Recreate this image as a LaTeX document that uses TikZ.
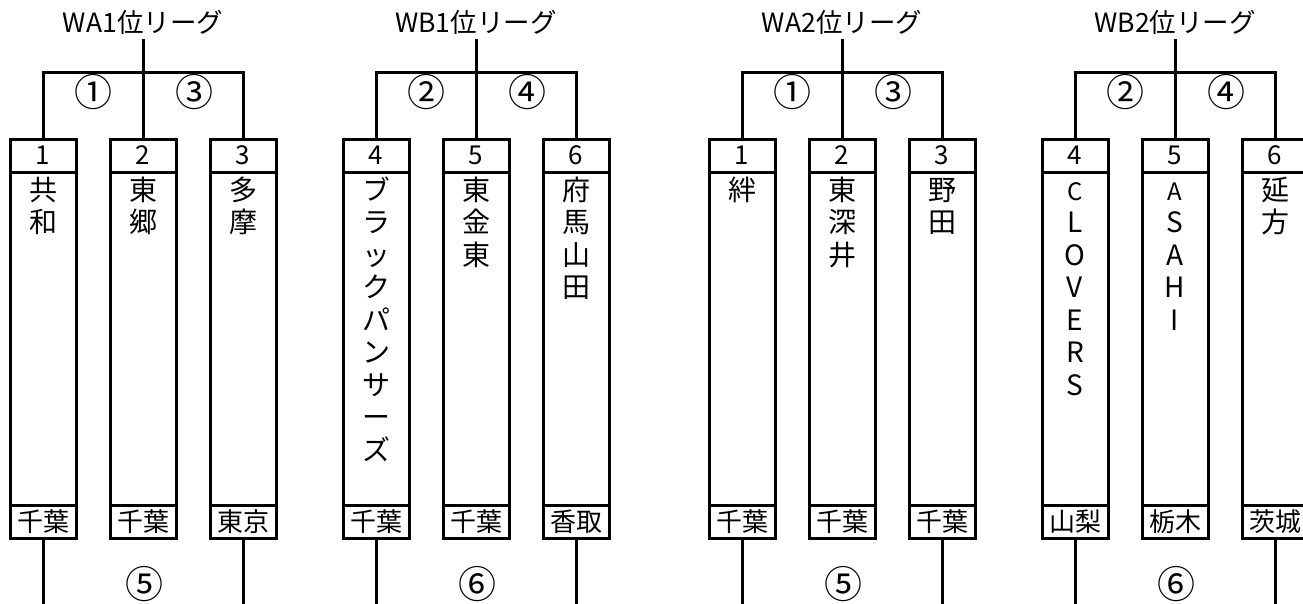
\documentclass[tikz,border=0pt]{standalone}
\usepackage{fontspec}
\setmainfont{Noto Sans CJK JP}
\newfontfamily\vertjp[RawFeature=+vert]{Noto Sans CJK JP}
\newcommand\latinname{\fontsize{24}{32.5}\selectfont}
\newcommand\teamcol[6]{%
  \node[numcell] (#1n) at (#2,155.5) {#3};
  \node[namecell] (#1m) at (#2,338.5) {};
  \node[prefcell] (#1p) at (#2,521.5) {#5};
  \node[nametext] (#1t) at (#2,170) {#6\rule{0pt}{30pt}#4};
}
\newcommand\bracketof[6]{%
  \node[titletext] (#1T) at (#2,32) {#3};
  \coordinate (#1J) at (#2,72);
  \draw[conn] (#1T.south) -- (#1J);
  \draw[conn] (#11n.north) -- (#11n.north |- #1J) -- (#13n.north |- #1J) -- (#13n.north);
  \draw[conn] (#1J) -- (#12n.north);
  \node[circ] (#1c1) at ({#2-50},92) {#4};
  \node[circ] (#1c2) at ({#2+51},92) {#5};
  \coordinate (#1E1) at ({#2-100},610);
  \coordinate (#1E3) at ({#2+100},610);
  \draw[conn] (#11p.south) -- (#1E1);
  \draw[conn] (#13p.south) -- (#1E3);
  \node[circ] (#1c3) at ({#2+1},584) {#6};
}
\begin{document}
\begin{tikzpicture}[x=1pt,y=-1pt,
  cell/.style={draw, line width=3pt, minimum width=66pt, inner sep=0pt,
    font=\fontsize{26}{26}\selectfont},
  numcell/.style={cell, minimum height=33pt},
  namecell/.style={cell, minimum height=333pt},
  prefcell/.style={cell, minimum height=33pt, font=\fontsize{26}{26}\selectfont},
  nametext/.style={anchor=north, inner sep=0pt, align=center,
    font=\fontsize{28}{32.5}\selectfont},
  titletext/.style={anchor=base, font=\fontsize{26.5}{26.5}\selectfont,
    text depth=3pt, inner ysep=4pt, inner xsep=0pt},
  circ/.style={font=\fontsize{38}{38}\selectfont, inner sep=0pt},
  conn/.style={line width=3pt}]
\useasboundingbox (0,0) rectangle (1303,603);
\fill[white] (0,0) rectangle (1303,603);
% block A
\teamcol{A1}{43}{1}{共\\和}{千葉}{}
\teamcol{A2}{143}{2}{東\\郷}{千葉}{}
\teamcol{A3}{243}{3}{多\\摩}{東京}{}
\bracketof{A}{143}{WA1位リーグ}{①}{③}{⑤}
% block B
\teamcol{B1}{376}{4}{ブ\\ラ\\ッ\\ク\\パ\\ン\\サ\\ー\\ズ}{千葉}{\vertjp}
\teamcol{B2}{476}{5}{東\\金\\東}{千葉}{}
\teamcol{B3}{576}{6}{府\\馬\\山\\田}{香取}{}
\bracketof{B}{476}{WB1位リーグ}{②}{④}{⑥}
% block C
\teamcol{C1}{742}{1}{絆}{千葉}{}
\teamcol{C2}{842}{2}{東\\深\\井}{千葉}{}
\teamcol{C3}{942}{3}{野\\田}{千葉}{}
\bracketof{C}{842}{WA2位リーグ}{①}{③}{⑤}
% block D
\teamcol{D1}{1075}{4}{C\\L\\O\\V\\E\\R\\S}{山梨}{\latinname}
\teamcol{D2}{1175}{5}{A\\S\\A\\H\\I}{栃木}{\latinname}
\teamcol{D3}{1275}{6}{延\\方}{茨城}{}
\bracketof{D}{1175}{WB2位リーグ}{②}{④}{⑥}
\end{tikzpicture}
\end{document}
